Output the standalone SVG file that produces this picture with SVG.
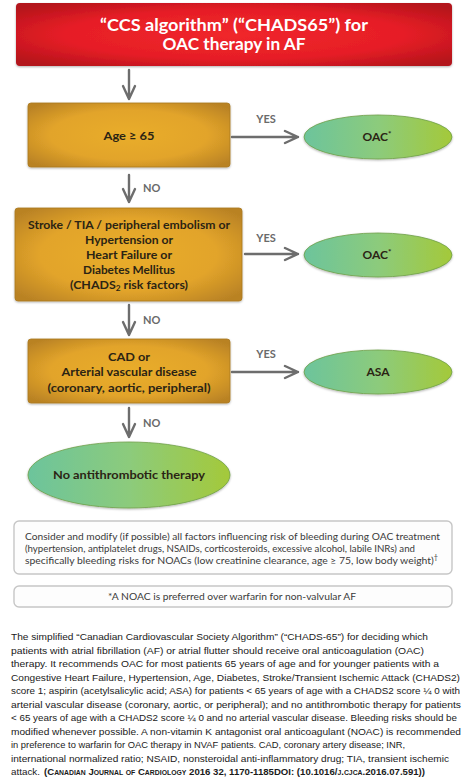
<svg xmlns="http://www.w3.org/2000/svg" width="474" height="780" viewBox="0 0 474 780">
<defs>
<radialGradient id="gRed" cx="50%" cy="50%" r="65%">
<stop offset="0" stop-color="#f0262c"/><stop offset="0.6" stop-color="#e61e26"/><stop offset="1" stop-color="#b3121b"/>
</radialGradient>
<radialGradient id="gGold" cx="50%" cy="50%" r="65%">
<stop offset="0" stop-color="#e9ad2c"/><stop offset="0.6" stop-color="#e2a42a"/><stop offset="1" stop-color="#b98224"/>
</radialGradient>
<linearGradient id="gGreen" x1="0" y1="0" x2="1" y2="0">
<stop offset="0" stop-color="#6cc49c"/><stop offset="0.5" stop-color="#8ccb7c"/><stop offset="1" stop-color="#a4c93a"/>
</linearGradient>
<filter id="sh" x="-10%" y="-10%" width="120%" height="130%">
<feDropShadow dx="0" dy="1" stdDeviation="1.2" flood-color="#000" flood-opacity="0.3"/>
</filter>
</defs>
<style>
.box{fill:url(#gGold);stroke:#a9781f;stroke-width:0.8}
.ell{fill:url(#gGreen);stroke:#6fa048;stroke-width:0.8}
.bt{font-family:Lato,"Open Sans",sans-serif;font-weight:bold;font-size:12px;fill:#2b2414;text-anchor:middle}
.ht{font-family:Lato,"Open Sans",sans-serif;font-weight:bold;font-size:16.3px;fill:#ffffff;text-anchor:middle}
.lab{font-family:Lato,"Open Sans",sans-serif;font-weight:bold;font-size:11px;fill:#6a6a6a}
.arr{fill:none;stroke:#6d6d6d;stroke-width:2.4;stroke-linecap:round;stroke-linejoin:round}
.note{fill:#fdfdfd;stroke:#c6c6c6;stroke-width:1.4}
.nt{font-family:Lato,"Open Sans",sans-serif;font-size:10px;fill:#3a3a3a}
.cap{font-family:"Liberation Sans",Arial,sans-serif;font-size:9.8px;fill:#1a1a1a}
.ref{font-weight:bold;font-variant:small-caps}
</style>

<g id="header">
<rect x="16" y="3" width="436" height="63" rx="4" fill="url(#gRed)" filter="url(#sh)"/>
<text class="ht" x="234" y="30.5" textLength="268" lengthAdjust="spacingAndGlyphs">“CCS algorithm” (“CHADS65”) for</text>
<text class="ht" x="234" y="50" textLength="143" lengthAdjust="spacingAndGlyphs">OAC therapy in AF</text>
</g>

<g id="age">
<rect class="box" x="28" y="103" width="202" height="64" rx="3" filter="url(#sh)"/>
<text class="bt" x="129" y="140" textLength="51" lengthAdjust="spacingAndGlyphs">Age ≥ 65</text>
</g>

<g id="chads">
<rect class="box" x="15" y="208" width="227" height="93" rx="3" filter="url(#sh)"/>
<text class="bt" x="129" y="229" textLength="202" lengthAdjust="spacingAndGlyphs">Stroke / TIA / peripheral embolism or</text>
<text class="bt" x="129" y="244" textLength="88" lengthAdjust="spacingAndGlyphs">Hypertension or</text>
<text class="bt" x="129" y="259" textLength="86" lengthAdjust="spacingAndGlyphs">Heart Failure or</text>
<text class="bt" x="129" y="274" textLength="92" lengthAdjust="spacingAndGlyphs">Diabetes Mellitus</text>
<text class="bt" x="129" y="289" textLength="118" lengthAdjust="spacingAndGlyphs">(CHADS<tspan font-size="8" dy="2">2</tspan><tspan dy="-2"> risk factors)</tspan></text>
</g>

<g id="cad">
<rect class="box" x="28" y="339" width="202" height="64" rx="3" filter="url(#sh)"/>
<text class="bt" x="129" y="361" textLength="42" lengthAdjust="spacingAndGlyphs">CAD or</text>
<text class="bt" x="129" y="376" textLength="135" lengthAdjust="spacingAndGlyphs">Arterial vascular disease</text>
<text class="bt" x="129" y="392" textLength="163" lengthAdjust="spacingAndGlyphs">(coronary, aortic, peripheral)</text>
</g>

<g id="oac1">
<ellipse class="ell" cx="378" cy="137" rx="74" ry="22" filter="url(#sh)"/>
<text class="bt" x="377" y="141">OAC<tspan font-size="8" dy="-4">*</tspan></text>
</g>

<g id="oac2">
<ellipse class="ell" cx="378" cy="255" rx="74" ry="22" filter="url(#sh)"/>
<text class="bt" x="377" y="259">OAC<tspan font-size="8" dy="-4">*</tspan></text>
</g>

<g id="asa">
<ellipse class="ell" cx="378" cy="372" rx="74" ry="22" filter="url(#sh)"/>
<text class="bt" x="378" y="376">ASA</text>
</g>

<g id="none">
<ellipse class="ell" cx="129" cy="475" rx="101" ry="33" filter="url(#sh)"/>
<text class="bt" x="129" y="479" textLength="152" lengthAdjust="spacingAndGlyphs">No antithrombotic therapy</text>
</g>

<g id="connectors">
<path class="arr" d="M129 70V99M123 86L129 99L135 86"/>
<path class="arr" d="M129 175V202M123 189L129 202L135 189"/>
<path class="arr" d="M129 305V335M123 322L129 335L135 322"/>
<path class="arr" d="M129 408V437M123 424L129 437L135 424"/>
<path class="arr" d="M232 137H298M285 131L298 137L285 143"/>
<path class="arr" d="M245 254H298M285 248L298 254L285 260"/>
<path class="arr" d="M232 372H298M285 366L298 372L285 378"/>
<text class="lab" x="266" y="123" text-anchor="middle">YES</text>
<text class="lab" x="266" y="242" text-anchor="middle">YES</text>
<text class="lab" x="266" y="358" text-anchor="middle">YES</text>
<text class="lab" x="143" y="192">NO</text>
<text class="lab" x="143" y="324">NO</text>
<text class="lab" x="143" y="427">NO</text>
</g>

<g id="bleeding">
<rect class="note" x="14" y="521" width="438" height="53" rx="5"/>
<text class="nt" x="25" y="539.5" textLength="415" lengthAdjust="spacingAndGlyphs">Consider and modify (if possible) all factors influencing risk of bleeding during OAC treatment</text>
<text class="nt" x="25" y="552" textLength="390" lengthAdjust="spacingAndGlyphs">(hypertension, antiplatelet drugs, NSAIDs, corticosteroids, excessive alcohol, labile INRs) and</text>
<text class="nt" x="25" y="564" textLength="413" lengthAdjust="spacingAndGlyphs">specifically bleeding risks for NOACs (low creatinine clearance, age ≥ 75, low body weight)<tspan font-size="7" dy="-4">†</tspan></text>
</g>

<g id="noac-note">
<rect class="note" x="14" y="586" width="438" height="21" rx="5"/>
<text class="nt" x="232" y="600" text-anchor="middle" textLength="248" lengthAdjust="spacingAndGlyphs">*A NOAC is preferred over warfarin for non-valvular AF</text>
</g>

<g id="caption">
<text class="cap" x="11" y="640" textLength="417" lengthAdjust="spacingAndGlyphs">The simplified “Canadian Cardiovascular Society Algorithm” (“CHADS-65”) for deciding which</text>
<text class="cap" x="11" y="653.5" textLength="413" lengthAdjust="spacingAndGlyphs">patients with atrial fibrillation (AF) or atrial flutter should receive oral anticoagulation (OAC)</text>
<text class="cap" x="11" y="667" textLength="428" lengthAdjust="spacingAndGlyphs">therapy. It recommends OAC for most patients 65 years of age and for younger patients with a</text>
<text class="cap" x="11" y="680.5" textLength="449" lengthAdjust="spacingAndGlyphs">Congestive Heart Failure, Hypertension, Age, Diabetes, Stroke/Transient Ischemic Attack (CHADS2)</text>
<text class="cap" x="11" y="694" textLength="449" lengthAdjust="spacingAndGlyphs">score 1; aspirin (acetylsalicylic acid; ASA) for patients &lt; 65 years of age with a CHADS2 score ¼ 0 with</text>
<text class="cap" x="11" y="707.5" textLength="450" lengthAdjust="spacingAndGlyphs">arterial vascular disease (coronary, aortic, or peripheral); and no antithrombotic therapy for patients</text>
<text class="cap" x="11" y="721" textLength="446" lengthAdjust="spacingAndGlyphs">&lt; 65 years of age with a CHADS2 score ¼ 0 and no arterial vascular disease. Bleeding risks should be</text>
<text class="cap" x="11" y="734.5" textLength="450" lengthAdjust="spacingAndGlyphs">modified whenever possible. A non-vitamin K antagonist oral anticoagulant (NOAC) is recommended</text>
<text class="cap" x="11" y="748" textLength="394" lengthAdjust="spacingAndGlyphs">in preference to warfarin for OAC therapy in NVAF patients. CAD, coronary artery disease; INR,</text>
<text class="cap" x="11" y="761.5" textLength="438" lengthAdjust="spacingAndGlyphs">international normalized ratio; NSAID, nonsteroidal anti-inflammatory drug; TIA, transient ischemic</text>
<text class="cap" x="11" y="775" textLength="29" lengthAdjust="spacingAndGlyphs">attack.</text>
<text class="cap ref" x="44" y="775" textLength="381" lengthAdjust="spacingAndGlyphs">(Canadian Journal of Cardiology 2016 32, 1170-1185DOI: (10.1016/j.cjca.2016.07.591))</text>
</g>
</svg>
